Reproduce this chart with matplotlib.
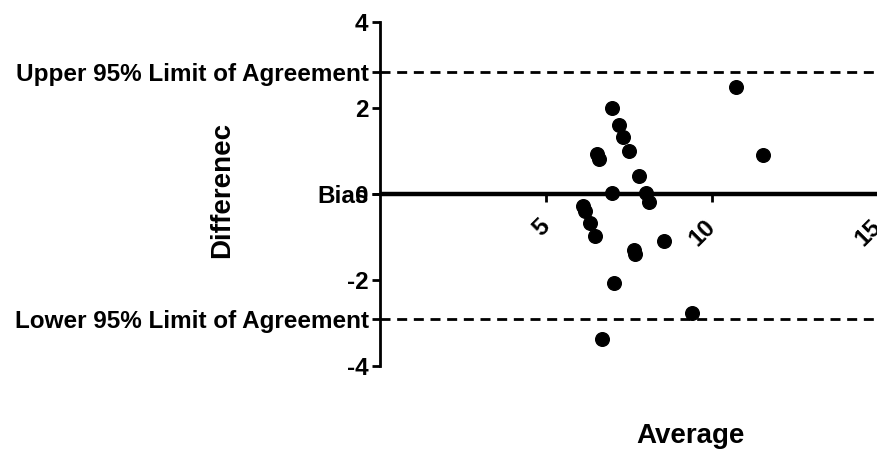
import matplotlib
matplotlib.use("Agg")
import matplotlib.pyplot as plt

plt.rcParams['font.family'] = ['Liberation Sans', 'DejaVu Sans']
plt.rcParams['font.weight'] = 'bold'

# Data
average = [10.74, 6.98, 7.19, 7.33, 7.49, 6.54, 6.59, 11.54, 7.80, 6.98, 8.01,
           8.10, 6.13, 6.18, 6.34, 6.47, 7.67, 7.70, 8.55, 7.04, 9.39, 6.69]
difference = [2.49, 2.00, 1.59, 1.31, 1.00, 0.92, 0.80, 0.90, 0.41, 0.02, 0.03,
              -0.19, -0.28, -0.39, -0.68, -0.99, -1.31, -1.40, -1.09, -2.08, -2.78, -3.38]
bias = 0.0
upper_loa = 2.84
lower_loa = -2.91
x_ticks = [5, 10, 15]
y_ticks = [-4, -2, 0, 2, 4]
ref_labels = ['Upper 95% Limit of Agreement', 'Bias', 'Lower 95% Limit of Agreement']

fig = plt.figure(figsize=(8.78, 4.49), dpi=100)
ax = fig.add_axes([379.7/878, 1 - 366/449, 498.3/878, (366 - 21.7)/449])

ax.set_xlim(0, 15)
ax.set_ylim(-4, 4)

ax.axhline(upper_loa, color='black', lw=2, dashes=(3.6, 2.4), zorder=2)
ax.axhline(lower_loa, color='black', lw=2, dashes=(3.6, 2.4), zorder=2)
ax.axhline(bias, color='black', lw=3.2, zorder=2)

ax.plot(average, difference, 'o', color='black', ms=9.8, zorder=3, clip_on=False)

for s in ['top', 'right']:
    ax.spines[s].set_visible(False)
ax.spines['bottom'].set_position(('data', 0))
ax.spines['left'].set_linewidth(2)
ax.spines['bottom'].set_linewidth(2)

ax.set_xticks(x_ticks)
ax.set_xticklabels([str(v) for v in x_ticks], rotation=45, ha='right', va='center',
                   rotation_mode='anchor')
ax.set_yticks(y_ticks)
ax.set_yticklabels([str(v) for v in y_ticks])
ax.tick_params(axis='both', length=6, width=2, labelsize=17.5, direction='out')
ax.tick_params(axis='y', pad=2)
ax.tick_params(axis='x', pad=15)

sec = ax.secondary_yaxis('left')
sec.spines['left'].set_visible(False)
sec.set_yticks([upper_loa, bias, lower_loa])
sec.set_yticklabels(ref_labels)
sec.tick_params(axis='y', length=6, width=2, labelsize=17.5, pad=2)

ax.set_xlabel('Average', fontsize=20, fontweight='bold')
ax.set_ylabel('Differenec', fontsize=20, fontweight='bold')
ax.xaxis.set_label_coords(0.623, -0.165)
ax.yaxis.set_label_coords(-0.29, 0.51)

fig.savefig('out.png', dpi=100)
